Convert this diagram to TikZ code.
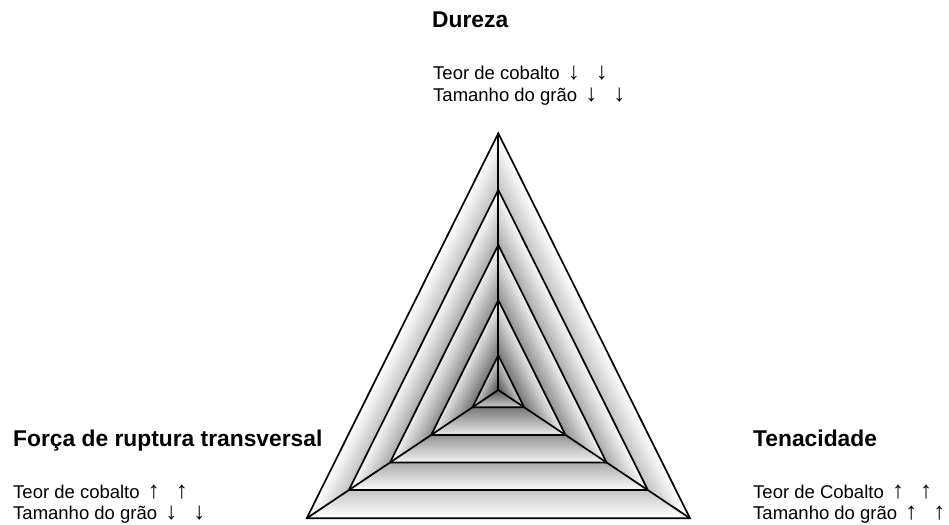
\documentclass[tikz,border=0pt]{standalone}
\usepackage{fontspec}
\setmainfont{Liberation Sans}
\usetikzlibrary{calc}
\begin{document}
\begin{tikzpicture}[x=1pt,y=-1pt,
  title/.style={font=\fontsize{22.8}{26}\selectfont\bfseries, inner sep=0pt, anchor=base west},
  txt/.style={font=\fontsize{18.5}{22}\selectfont, inner sep=0pt, anchor=base west},
  arr/.style={font=\fontsize{24}{26}\selectfont, inner sep=0pt, anchor=base},
  edgeline/.style={line width=1.7pt, line join=miter, draw=black}]
\useasboundingbox (0,0) rectangle (949,524);
\fill[white] (0,0) rectangle (949,524);
% triangle geometry
\coordinate (T) at (498.3,133.3);
\coordinate (L) at (306.7,518.3);
\coordinate (R) at (690,518.3);
\coordinate (C) at (498.3,390);
% shaded bands (nested triangles, outer to inner)
\foreach \sa/\sb/\ca/\cb in {1/0.78/0/24, 0.78/0.565/3/34, 0.565/0.35/6/44, 0.35/0.135/10/55, 0.135/0/22/68} {
  \foreach \j in {0,...,19} {
    \pgfmathsetmacro\s{\sa-(\sa-\sb)*\j/20}
    \pgfmathsetmacro\c{\ca+(\cb-\ca)*\j/20}
    \fill[black!\c] ($(C)!\s!(T)$) -- ($(C)!\s!(L)$) -- ($(C)!\s!(R)$) -- cycle;
  }
}
% level outlines
\foreach \s in {1,0.78,0.565,0.35,0.135} {
  \draw[edgeline] ($(C)!\s!(T)$) -- ($(C)!\s!(L)$) -- ($(C)!\s!(R)$) -- cycle;
}
% spokes
\draw[edgeline] (T) -- (C);
\draw[edgeline] (L) -- (C);
\draw[edgeline] (R) -- (C);
% top block
\node[title] (dur) at (432,28) {Dureza};
\node[txt] (dur1) at (433,80) {Teor de cobalto};
\node[arr] (dur1a) at ([xshift=14pt]dur1.base east) {↓};
\node[arr] (dur1b) at ([xshift=28pt]dur1a.base) {↓};
\node[txt] (dur2) at (433,102) {Tamanho do grão};
\node[arr] (dur2a) at ([xshift=14pt]dur2.base east) {↓};
\node[arr] (dur2b) at ([xshift=28pt]dur2a.base) {↓};
% left block
\node[title] (frt) at (13,446) {Força de ruptura transversal};
\node[txt] (frt1) at (13,498) {Teor de cobalto};
\node[arr] (frt1a) at ([xshift=14pt]frt1.base east) {↑};
\node[arr] (frt1b) at ([xshift=28pt]frt1a.base) {↑};
\node[txt] (frt2) at (13,519) {Tamanho do grão};
\node[arr] (frt2a) at ([xshift=14pt]frt2.base east) {↓};
\node[arr] (frt2b) at ([xshift=28pt]frt2a.base) {↓};
% right block
\node[title] (ten) at (753,446) {Tenacidade};
\node[txt] (ten1) at (753,498) {Teor de Cobalto};
\node[arr] (ten1a) at ([xshift=14pt]ten1.base east) {↑};
\node[arr] (ten1b) at ([xshift=28pt]ten1a.base) {↑};
\node[txt] (ten2) at (753,519) {Tamanho do grão};
\node[arr] (ten2a) at ([xshift=14pt]ten2.base east) {↑};
\node[arr] (ten2b) at ([xshift=28pt]ten2a.base) {↑};
\end{tikzpicture}
\end{document}
